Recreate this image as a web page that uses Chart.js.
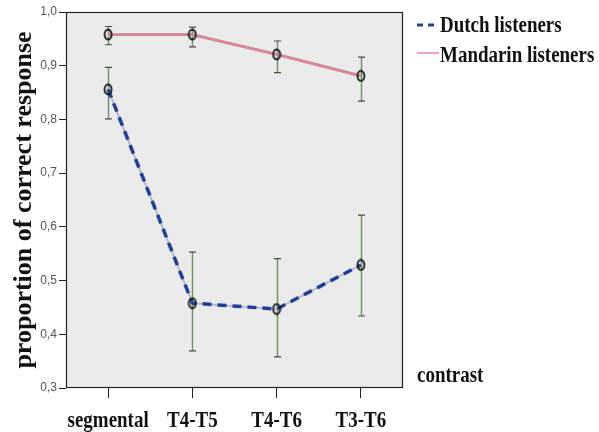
<!DOCTYPE html>
<html>
  <head>
    <title>Proportion of correct response</title>
    <script src="https://cdn.jsdelivr.net/npm/chart.js@4.4.0/dist/chart.umd.min.js"></script>
    <style>
      html, body { margin: 0; padding: 0; background: #fff; }
      #wrap { width: 599px; height: 432px; }
    </style>
  </head>
  <body>
    <div id="wrap">
      <canvas id="chart" width="599" height="432"></canvas>
    </div>
    <script>
      // data (means and error bar ends)
      var categories = ["segmental", "T4-T5", "T4-T6", "T3-T6"];
      var dutchMean = [0.856, 0.458, 0.447, 0.529];
      var dutchLow = [0.801, 0.369, 0.358, 0.434];
      var dutchHigh = [0.897, 0.553, 0.541, 0.622];
      var mandarinMean = [0.958, 0.958, 0.921, 0.881];
      var mandarinLow = [0.939, 0.935, 0.887, 0.834];
      var mandarinHigh = [0.973, 0.972, 0.946, 0.916];
      var yMin = 0.3, yMax = 1.0, yStep = 0.1;
      var legendLabels = ["Dutch listeners", "Mandarin listeners"];
      var xTitle = "contrast";
      var yTitle = "proportion of correct response";

      var serif = '"Liberation Serif", "Times New Roman", serif';

      // small oval marker, like the original
      function ovalMarker() {
        var c = document.createElement("canvas");
        c.width = 10; c.height = 13;
        var g = c.getContext("2d");
        g.strokeStyle = "#1a1a1a";
        g.lineWidth = 1.8;
        g.beginPath();
        g.ellipse(5, 6.5, 3.5, 5, 0, 0, 2 * Math.PI);
        g.stroke();
        return c;
      }
      var marker = ovalMarker();

      function squishText(ctx, text, x, y, align) {
        ctx.save();
        ctx.translate(x, y);
        ctx.scale(0.79, 1);
        ctx.textAlign = align;
        ctx.textBaseline = "alphabetic";
        ctx.fillText(text, 0, 0);
        ctx.restore();
      }

      var panelPlugin = {
        id: "panel",
        beforeDraw: function(chart) {
          var ctx = chart.ctx, a = chart.chartArea;
          ctx.save();
          ctx.fillStyle = "#fff";
          ctx.fillRect(0, 0, chart.width, chart.height);
          ctx.fillStyle = "#ebebeb";
          ctx.fillRect(a.left, a.top, a.right - a.left, a.bottom - a.top);
          ctx.restore();
        },
        afterDraw: function(chart) {
          var ctx = chart.ctx, a = chart.chartArea;
          ctx.save();
          ctx.strokeStyle = "#222";
          ctx.lineWidth = 1.2;
          ctx.strokeRect(a.left + 0.5, a.top + 0.5, a.right - a.left - 1, a.bottom - a.top - 1);

          // x labels on the library's tick positions
          var xs = chart.scales.x;
          ctx.fillStyle = "#111";
          ctx.font = "bold 24px " + serif;
          categories.forEach(function(c, i) {
            squishText(ctx, c, xs.getPixelForTick(i), 427, "center");
          });
          squishText(ctx, xTitle, 417, 382, "left");

          // legend
          ctx.strokeStyle = "#1d3f9e";
          ctx.lineWidth = 3;
          ctx.setLineDash([6, 5]);
          ctx.beginPath();
          ctx.moveTo(417, 25); ctx.lineTo(438, 25);
          ctx.stroke();
          ctx.setLineDash([]);
          ctx.strokeStyle = "#f2a3b3";
          ctx.lineWidth = 2;
          ctx.beginPath();
          ctx.moveTo(417, 53); ctx.lineTo(439, 53);
          ctx.stroke();
          squishText(ctx, legendLabels[0], 440, 32, "left");
          squishText(ctx, legendLabels[1], 440, 62, "left");
          ctx.restore();
        }
      };

      var errorBarPlugin = {
        id: "errorBars",
        beforeDatasetsDraw: function(chart) {
          var ctx = chart.ctx, xs = chart.scales.x, ys = chart.scales.y;
          var sets = [[dutchLow, dutchHigh], [mandarinLow, mandarinHigh]];
          ctx.save();
          sets.forEach(function(s) {
            for (var i = 0; i < categories.length; i++) {
              var x = Math.round(xs.getPixelForValue(i)) + 0.5;
              var lo = ys.getPixelForValue(s[0][i]);
              var hi = ys.getPixelForValue(s[1][i]);
              ctx.strokeStyle = "#6f9560";
              ctx.lineWidth = 1.5;
              ctx.beginPath();
              ctx.moveTo(x, lo); ctx.lineTo(x, hi);
              ctx.stroke();
              ctx.strokeStyle = "#4a4a4a";
              ctx.lineWidth = 1.2;
              ctx.beginPath();
              ctx.moveTo(x - 3.5, lo); ctx.lineTo(x + 3.5, lo);
              ctx.moveTo(x - 3.5, hi); ctx.lineTo(x + 3.5, hi);
              ctx.stroke();
            }
          });
          ctx.restore();
        }
      };

      var ctx = document.getElementById("chart").getContext("2d");
      var chart = new Chart(ctx, {
        type: "line",
        data: {
          labels: categories,
          datasets: [
            {
              label: legendLabels[0],
              data: dutchMean,
              borderColor: "#1d3f9e",
              borderWidth: 3.5,
              borderDash: [9, 6],
              pointStyle: marker,
              pointRadius: 5,
              tension: 0,
              order: 1
            },
            {
              label: legendLabels[0] + " base",
              data: dutchMean,
              borderColor: "#b4b6bd",
              borderWidth: 1.8,
              pointRadius: 0,
              tension: 0,
              order: 2
            },
            {
              label: legendLabels[1],
              data: mandarinMean,
              borderColor: "#ee8293",
              borderWidth: 2,
              pointStyle: marker,
              pointRadius: 5,
              tension: 0,
              order: 1
            },
            {
              label: legendLabels[1] + " base",
              data: mandarinMean,
              borderColor: "#909090",
              borderWidth: 2.8,
              pointRadius: 0,
              tension: 0,
              order: 2
            }
          ]
        },
        options: {
          responsive: false,
          animation: false,
          layout: { padding: { left: 0, right: 196, top: 12, bottom: 0 } },
          plugins: {
            legend: { display: false },
            tooltip: { enabled: false }
          },
          scales: {
            x: {
              type: "category",
              offset: true,
              border: { display: false },
              grid: { drawOnChartArea: false, offset: false, tickLength: 10, color: "#222" },
              ticks: { display: false },
              afterFit: function(s) { s.height = 44; }
            },
            y: {
              min: yMin,
              max: yMax,
              border: { display: false },
              grid: { drawOnChartArea: false, tickLength: 7, color: "#222" },
              ticks: {
                stepSize: yStep,
                padding: 2,
                color: "#555",
                font: { family: '"Liberation Sans", Arial, sans-serif', size: 12 },
                callback: function(v) { return v.toFixed(1).replace(".", ","); }
              },
              title: {
                display: true,
                text: yTitle,
                color: "#111",
                font: { family: serif, size: 26, weight: "bold" },
                padding: { top: 9, bottom: 0 }
              },
              afterFit: function(s) { s.width = 66; }
            }
          }
        },
        plugins: [panelPlugin, errorBarPlugin]
      });
    </script>
  </body>
</html>
